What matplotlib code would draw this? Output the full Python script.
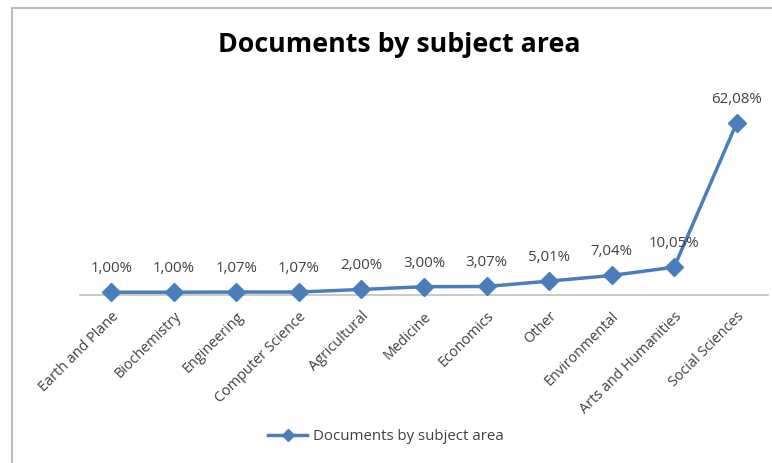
import matplotlib.pyplot as plt
from matplotlib.lines import Line2D

categories = ["Earth and Plane", "Biochemistry", "Engineering", "Computer Science",
              "Agricultural", "Medicine", "Economics", "Other", "Environmental",
              "Arts and Humanities", "Social Sciences"]
values = [1.00, 1.00, 1.07, 1.07, 2.00, 3.00, 3.07, 5.01, 7.04, 10.05, 62.08]
value_labels = ["1,00%", "1,00%", "1,07%", "1,07%", "2,00%", "3,00%", "3,07%",
                "5,01%", "7,04%", "10,05%", "62,08%"]

blue = "#4a7ebb"
text_color = "#404040"
plt.rcParams["font.family"] = ["Open Sans", "DejaVu Sans"]

fig = plt.figure(figsize=(7.72, 4.63), dpi=100)
W, H = 772, 463
ax = fig.add_axes([80 / W, (H - 295) / H, 688 / W, 194 / H])

x = list(range(len(categories)))
ax.plot(x, values, color=blue, linewidth=2.5, marker="D", markersize=9,
        markeredgecolor=blue, markerfacecolor=blue, clip_on=False, zorder=3)

for xi, v, lab in zip(x, values, value_labels):
    ax.annotate(lab, (xi, v), xytext=(0, 17), textcoords="offset points",
                ha="center", va="center", fontsize=10.8, color=text_color)

ax.set_xlim(-0.5, len(categories) - 0.5)
ax.set_ylim(0, 70)
ax.set_yticks([])
ax.set_xticks(x)
ax.set_xticklabels(categories, rotation=45, ha="right", rotation_mode="anchor",
                   fontsize=10.4, color=text_color)
ax.tick_params(axis="x", length=0, pad=10)
for side in ["top", "right", "left"]:
    ax.spines[side].set_visible(False)
ax.spines["bottom"].set_color("#c0c0c0")
ax.spines["bottom"].set_linewidth(1.2)

fig.text(399 / W, 1 - 45 / H, "Documents by subject area", ha="center", va="center",
         fontsize=19.3, fontweight="bold", color="black")

# legend
handle = Line2D([], [], color=blue, linewidth=2.5, marker="D", markersize=6.5)
fig.legend([handle], ["Documents by subject area"], loc="center",
           bbox_to_anchor=(386 / W, 1 - 437 / H), frameon=False, fontsize=10.8,
           labelcolor=text_color, handlelength=2.6, handletextpad=0.4)

# chart frame (left and top edges visible)
fig.add_artist(Line2D([12 / W, 12 / W], [0, 1 - 8 / H], transform=fig.transFigure,
                      color="#b0b0b0", linewidth=1.2))
fig.add_artist(Line2D([12 / W, 1], [1 - 8 / H, 1 - 8 / H], transform=fig.transFigure,
                      color="#b0b0b0", linewidth=1.2))

fig.savefig("out.png", dpi=100)
